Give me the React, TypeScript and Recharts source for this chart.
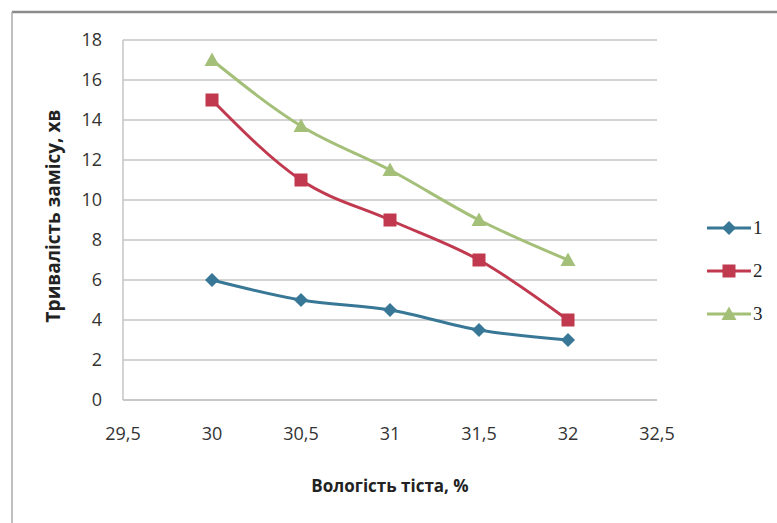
import React from "react";
import { LineChart, Line, XAxis, YAxis, CartesianGrid } from "recharts";

// moisture of dough, %
const moisture = [30, 30.5, 31, 31.5, 32];
const series1 = [6, 5, 4.5, 3.5, 3];
const series2 = [15, 11, 9, 7, 4];
const series3 = [17, 13.7, 11.5, 9, 7];

const xTicks = [29.5, 30, 30.5, 31, 31.5, 32, 32.5];
const yTicks = [0, 2, 4, 6, 8, 10, 12, 14, 16, 18];

const seriesNames = ["1", "2", "3"];
const colors = ["#387896", "#c0394f", "#a4bf78"];

const data = moisture.map((x, i) => ({
  x,
  s1: series1[i],
  s2: series2[i],
  s3: series3[i],
}));

const font = "'Open Sans', 'Noto Sans', sans-serif";
const fmt = (v: number) => String(v).replace(".", ",");

type Shape = "diamond" | "square" | "triangle";

function Marker({ cx, cy, shape, color }: { cx: number; cy: number; shape: Shape; color: string }) {
  if (cx == null || cy == null) return null;
  if (shape === "diamond") {
    const r = 7;
    return <path d={`M${cx},${cy - r}L${cx + r},${cy}L${cx},${cy + r}L${cx - r},${cy}Z`} fill={color} />;
  }
  if (shape === "square") {
    const r = 6.5;
    return <rect x={cx - r} y={cy - r} width={r * 2} height={r * 2} fill={color} />;
  }
  const r = 7.5;
  return <path d={`M${cx},${cy - r}L${cx + r},${cy + r * 0.8}L${cx - r},${cy + r * 0.8}Z`} fill={color} />;
}

const shapes: Shape[] = ["diamond", "square", "triangle"];

const XTick = ({ x, y, payload }: any) => (
  <text x={x} y={y + 38} textAnchor="middle" fontFamily={font} fontSize={18} fill="#333">
    {fmt(payload.value)}
  </text>
);

const YTick = ({ x, y, payload }: any) => (
  <text x={x - 19} y={y + 6} textAnchor="end" fontFamily={font} fontSize={18} fill="#333">
    {payload.value}
  </text>
);

function SeriesLegend() {
  return (
    <div style={{ position: "absolute", left: 706, top: 206, fontFamily: "'Liberation Serif', serif", fontSize: 19, color: "#222" }}>
      {seriesNames.map((n, i) => (
        <div key={n} style={{ display: "flex", alignItems: "center", height: 43 }}>
          <svg width={46} height={20}>
            <line x1={1} y1={10} x2={45} y2={10} stroke={colors[i]} strokeWidth={3} />
            <Marker cx={23} cy={10} shape={shapes[i]} color={colors[i]} />
          </svg>
          <span style={{ marginLeft: 1 }}>{n}</span>
        </div>
      ))}
    </div>
  );
}

export default function App() {
  return (
    <div style={{ position: "absolute", left: 0, top: 0, width: 777, height: 523, background: "#fff", overflow: "hidden" }}>
      <LineChart
        width={777}
        height={523}
        data={data}
        margin={{ top: 40, right: 120, bottom: 93, left: 63 }}
        style={{ position: "absolute", left: 0, top: 0 }}
      >
        <CartesianGrid vertical={false} stroke="#c4c4c4" strokeWidth={1.5} />
        <XAxis
          dataKey="x"
          type="number"
          domain={[29.5, 32.5]}
          ticks={xTicks}
          height={30}
          stroke="#c4c4c4"
          strokeWidth={1.5}
          tickLine={false}
          tickSize={0}
          tick={<XTick />}
        />
        <YAxis
          type="number"
          domain={[0, 18]}
          ticks={yTicks}
          width={60}
          stroke="#c4c4c4"
          strokeWidth={1.5}
          tickLine={false}
          tickSize={0}
          tick={<YTick />}
        />
        {(["s1", "s2", "s3"] as const).map((key, i) => (
          <Line
            key={key}
            dataKey={key}
            name={seriesNames[i]}
            type="monotone"
            stroke={colors[i]}
            strokeWidth={3}
            dot={(p: any) => <Marker key={`${key}-${p.index}`} cx={p.cx} cy={p.cy} shape={shapes[i]} color={colors[i]} />}
            activeDot={false}
            isAnimationActive={false}
          />
        ))}
      </LineChart>
      <SeriesLegend />
      <div
        style={{
          position: "absolute",
          left: 290,
          top: 474,
          width: 200,
          textAlign: "center",
          fontFamily: font,
          fontSize: 17,
          fontWeight: 700,
          color: "#222",
          whiteSpace: "nowrap",
        }}
      >
        Вологість тіста, %
      </div>
      <div
        style={{
          position: "absolute",
          left: 53,
          top: 216,
          transform: "translate(-50%, -50%) rotate(-90deg)",
          fontFamily: font,
          fontSize: 19,
          fontWeight: 700,
          color: "#222",
          whiteSpace: "nowrap",
        }}
      >
        Тривалість замісу, хв
      </div>
      {/* chart frame: top and left edges */}
      <svg width={777} height={523} style={{ position: "absolute", left: 0, top: 0, pointerEvents: "none" }}>
        <line x1={12} y1={12} x2={777} y2={12} stroke="#8a8a8a" strokeWidth={2.5} />
        <line x1={12} y1={12} x2={12} y2={523} stroke="#aaaaaa" strokeWidth={1.5} />
      </svg>
    </div>
  );
}
